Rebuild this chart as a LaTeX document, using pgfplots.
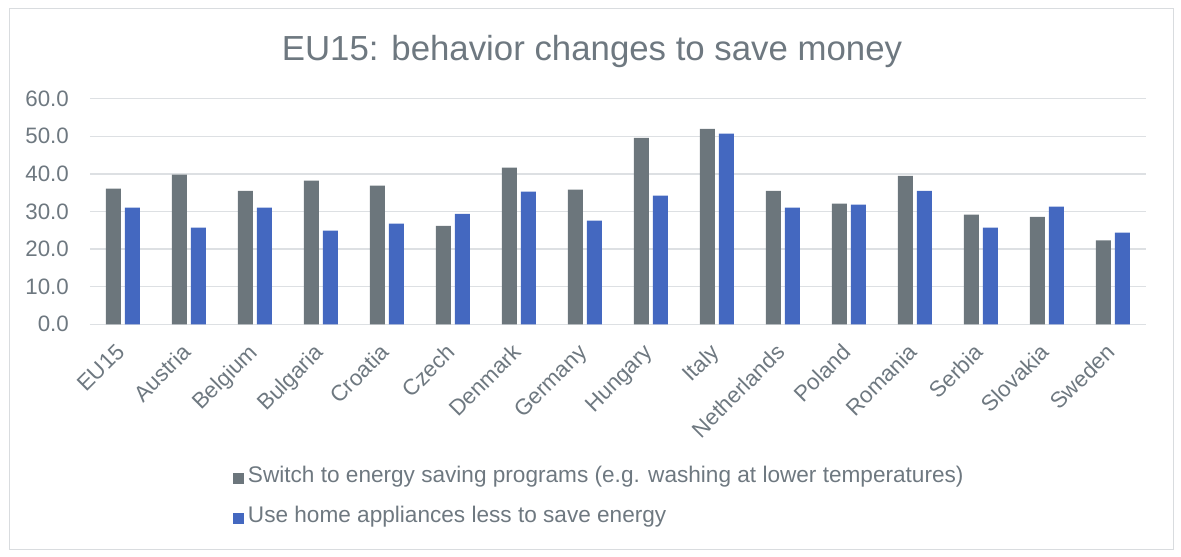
\documentclass[border=0pt]{standalone}
\usepackage{pgfplots}
\pgfplotsset{compat=1.18}
\usepackage{pgfplotstable}
\usepackage{fontspec}
\setmainfont{Liberation Sans}
\definecolor{bargray}{HTML}{6C767C}
\definecolor{barblue}{HTML}{4468C0}
\definecolor{txt}{HTML}{6E7880}
\definecolor{gridc}{HTML}{DDE0E3}
\definecolor{framec}{HTML}{D9DCDF}

\pgfplotstableread{
x name switch use
0 EU15 36.1 31.0
1 Austria 39.8 25.7
2 Belgium 35.5 31.0
3 Bulgaria 38.2 24.9
4 Croatia 36.9 26.8
5 Czech 26.2 29.4
6 Denmark 41.7 35.3
7 Germany 35.8 27.6
8 Hungary 49.6 34.2
9 Italy 52.0 50.7
10 Netherlands 35.5 31.0
11 Poland 32.1 31.8
12 Romania 39.5 35.5
13 Serbia 29.2 25.7
14 Slovakia 28.6 31.3
15 Sweden 22.3 24.4
}\data

\begin{document}
\begin{tikzpicture}
\path[use as bounding box] (-90bp,-232.7bp) rectangle (1091bp,324.3bp);
\draw[framec, line width=1bp] (-80bp,-224.7bp) rectangle (1083bp,315.3bp);
\begin{axis}[
  scale only axis, width=1056bp, height=225.6bp,
  at={(0,0)}, anchor=south west,
  xmin=-0.5, xmax=15.5, ymin=0, ymax=60,
  ybar=4bp, bar width=15bp,
  xtick=data, xticklabels from table={\data}{name},
  ytick={0,10,...,60},
  ymajorgrids, grid style={gridc, line width=1.3bp},
  axis line style={draw=none},
  major tick length=0pt,
  tick label style={font=\fontsize{22.3bp}{26bp}\selectfont, text=txt},
  yticklabel style={/pgf/number format/fixed, /pgf/number format/fixed zerofill, /pgf/number format/precision=1, /pgf/number format/assume math mode=true, anchor=east, inner sep=0pt, xshift=-21bp},
  xticklabel style={inner sep=0pt, xshift=-8bp, yshift=-18bp, rotate=45, anchor=north east},
  legend style={draw=none, fill=none, at={(0.1354,-0.634)}, anchor=north west, inner sep=0pt, outer sep=0pt, row sep=19.8bp, column sep=4bp,
    nodes={inner sep=0pt, text=txt, font=\fontsize{22.6bp}{26bp}\selectfont, text height=15.6bp, text depth=4.6bp}},
  legend cell align=left,
  legend image code/.code={\fill[#1] (0bp,-7bp) rectangle (11bp,4bp);},
]
\addplot[fill=bargray, draw=none] table[x=x,y=switch]{\data};
\addplot[fill=barblue, draw=none] table[x=x,y=use]{\data};
\legend{Switch to energy saving programs (e.g. washing at lower temperatures), Use home appliances less to save energy}
\end{axis}
\node[anchor=base, text=txt, font=\fontsize{34.8bp}{40bp}\selectfont, inner sep=0pt] at (502bp,263.3bp) {EU15: behavior changes to save money};
\end{tikzpicture}
\end{document}
